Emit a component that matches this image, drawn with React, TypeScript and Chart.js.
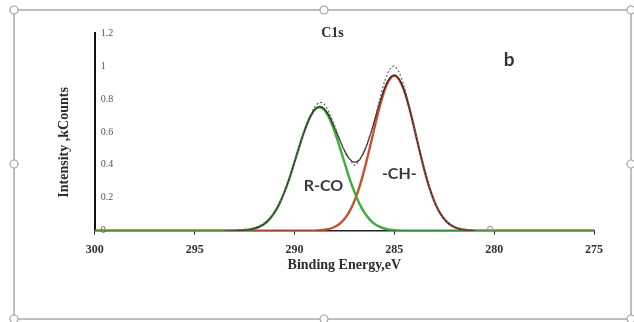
import React, { useEffect, useRef } from "react";
import { Chart, registerables } from "chart.js";

Chart.register(...registerables);

// Binding energy grid (eV)
const energies = [
  300,
  293.5, 293.25, 293, 292.75, 292.5, 292.25, 292, 291.75, 291.5, 291.25,
  291, 290.75, 290.5, 290.25, 290, 289.75, 289.5, 289.25, 289, 288.75,
  288.5, 288.25, 288, 287.75, 287.5, 287.25, 287, 286.75, 286.5, 286.25,
  286, 285.75, 285.5, 285.25, 285, 284.75, 284.5, 284.25, 284, 283.75,
  283.5, 283.25, 283, 282.75, 282.5, 282.25, 282, 281.75, 281.5, 281.25,
  281,
  275,
];

// R-CO component (green)
const rcoFit = [
  0,
  0, 0, 0.001, 0.002, 0.004, 0.007, 0.014, 0.025, 0.043, 0.071,
  0.111, 0.165, 0.236, 0.32, 0.416, 0.514, 0.606, 0.682, 0.733, 0.75,
  0.733, 0.682, 0.606, 0.514, 0.416, 0.32, 0.236, 0.165, 0.111, 0.071,
  0.043, 0.025, 0.014, 0.007, 0.004, 0.002, 0.001, 0, 0, 0,
  0, 0, 0, 0, 0, 0, 0, 0, 0, 0,
  0,
  0,
];

// -CH- component (red)
const chFit = [
  0,
  0, 0, 0, 0, 0, 0, 0, 0, 0, 0,
  0, 0, 0, 0, 0, 0, 0, 0, 0.001, 0.003,
  0.006, 0.012, 0.023, 0.041, 0.071, 0.116, 0.18, 0.265, 0.371, 0.493,
  0.622, 0.745, 0.848, 0.916, 0.94, 0.916, 0.848, 0.745, 0.622, 0.493,
  0.371, 0.265, 0.18, 0.116, 0.071, 0.041, 0.023, 0.012, 0.006, 0.003,
  0.001,
  0,
];

// fitted envelope (dark)
const envelope = [
  0,
  0, 0, 0.001, 0.002, 0.004, 0.007, 0.014, 0.025, 0.043, 0.071,
  0.111, 0.165, 0.236, 0.32, 0.416, 0.514, 0.606, 0.682, 0.734, 0.753,
  0.739, 0.694, 0.629, 0.555, 0.487, 0.436, 0.416, 0.43, 0.482, 0.564,
  0.665, 0.77, 0.862, 0.923, 0.944, 0.918, 0.849, 0.745, 0.622, 0.493,
  0.371, 0.265, 0.18, 0.116, 0.071, 0.041, 0.023, 0.012, 0.006, 0.003,
  0.001,
  0,
];

// measured spectrum (dotted)
const measured = [
  null,
  0.002, 0.003, 0.004, 0.006, 0.008, 0.012, 0.02, 0.03, 0.048, 0.075,
  0.115, 0.17, 0.24, 0.322, 0.418, 0.518, 0.612, 0.69, 0.748, 0.778,
  0.768, 0.712, 0.64, 0.562, 0.49, 0.44, 0.398, 0.43, 0.49, 0.57,
  0.67, 0.79, 0.9, 0.975, 1.0, 0.958, 0.872, 0.756, 0.628, 0.497,
  0.374, 0.268, 0.182, 0.118, 0.073, 0.043, 0.025, 0.014, 0.008, 0.005,
  0.004,
  null,
];

const strayE = [280.2];
const strayI = [0.012];

const xTicks = [300, 295, 290, 285, 280, 275];
const yTicks = [0, 0.2, 0.4, 0.6, 0.8, 1, 1.2];

const serif = "'Liberation Serif', 'Times New Roman', serif";
const sans = "Lato, 'Open Sans', sans-serif";

const pts = (ys: (number | null)[]) =>
  energies.map((e, i) => ({ x: e, y: ys[i] }));

const decorPlugin = {
  id: "decor",
  beforeDraw(chart: any) {
    const { ctx } = chart;
    ctx.save();
    ctx.fillStyle = "#ffffff";
    ctx.fillRect(0, 0, chart.width, chart.height);
    ctx.strokeStyle = "#a3abb6";
    ctx.lineWidth = 1.5;
    ctx.strokeRect(14, 10, 617, 309);
    ctx.restore();
  },
  afterDraw(chart: any) {
    const { ctx, scales } = chart;
    const xs = scales.x;
    const ys = scales.y;
    ctx.save();
    ctx.textAlign = "center";
    ctx.textBaseline = "middle";
    ctx.fillStyle = "#2e2e2e";
    ctx.font = `bold 14px ${serif}`;
    ctx.fillText("C1s", xs.getPixelForValue(288.1), ys.getPixelForValue(1.2));
    ctx.fillStyle = "#333333";
    ctx.font = `bold 19px ${sans}`;
    ctx.fillText("b", xs.getPixelForValue(279.25), ys.getPixelForValue(1.035));
    ctx.font = `bold 16px ${sans}`;
    ctx.fillStyle = "#3a3a3a";
    ctx.fillText("R-CO", xs.getPixelForValue(288.55), ys.getPixelForValue(0.27));
    ctx.fillText("-CH-", xs.getPixelForValue(284.75), ys.getPixelForValue(0.345));
    // selection handles
    const hx = [14, 324, 631];
    const hy = [10, 164, 319];
    ctx.fillStyle = "#ffffff";
    ctx.strokeStyle = "#9aa3ae";
    ctx.lineWidth = 1.2;
    for (const x of hx) {
      for (const y of hy) {
        if (x === 324 && y === 164) continue;
        ctx.beginPath();
        ctx.arc(x, y, 4, 0, Math.PI * 2);
        ctx.fill();
        ctx.stroke();
      }
    }
    ctx.restore();
  },
};

export default function App() {
  const ref = useRef<HTMLCanvasElement | null>(null);

  useEffect(() => {
    if (!ref.current) return;
    const chart = new Chart(ref.current, {
      type: "line",
      data: {
        datasets: [
          {
            label: "Measured",
            data: pts(measured),
            borderColor: "#6f6578",
            borderWidth: 1.3,
            borderDash: [2, 2],
            pointRadius: 0,
            tension: 0.3,
            spanGaps: false,
          },
          {
            label: "Stray",
            data: strayE.map((e, i) => ({ x: e, y: strayI[i] })),
            showLine: false,
            pointRadius: 2.5,
            pointBorderColor: "#8a8a96",
            pointBackgroundColor: "rgba(255,255,255,0)",
            pointBorderWidth: 1,
          },
          {
            label: "Envelope",
            data: pts(envelope).slice(1, -1),
            borderColor: "#35201a",
            borderWidth: 1.2,
            pointRadius: 0,
            tension: 0.3,
          },
          {
            label: "R-CO",
            data: pts(rcoFit),
            borderColor: "#3cae3c",
            borderWidth: 2.4,
            pointRadius: 0,
            tension: 0.3,
          },
          {
            label: "-CH-",
            data: pts(chFit),
            borderColor: "#c9512f",
            borderWidth: 2.4,
            pointRadius: 0,
            tension: 0.3,
          },
        ],
      },
      options: {
        animation: false,
        responsive: false,
        devicePixelRatio: 1,
        layout: { padding: { left: 56, right: 40, top: 33, bottom: 48 } },
        plugins: {
          legend: { display: false },
          tooltip: { enabled: false },
          title: { display: false },
        },
        scales: {
          x: {
            type: "linear",
            reverse: true,
            min: 275,
            max: 300,
            afterBuildTicks: (s: any) => {
              s.ticks = xTicks.map((v) => ({ value: v }));
            },
            ticks: {
              font: { family: serif, size: 12, weight: "bold" },
              color: "#333333",
              padding: 8,
              maxRotation: 0,
              autoSkip: false,
            },
            grid: {
              drawOnChartArea: false,
              drawTicks: true,
              tickLength: 4,
              color: "#333333",
            },
            border: { display: true, color: "#222222", width: 1.5 },
            title: {
              display: true,
              text: "Binding Energy,eV",
              font: { family: serif, size: 14, weight: "bold" },
              color: "#2e2e2e",
              padding: { top: -8, bottom: 0 },
            },
          },
          y: {
            type: "linear",
            min: 0,
            max: 1.2,
            afterBuildTicks: (s: any) => {
              s.ticks = yTicks.map((v) => ({ value: v }));
            },
            ticks: {
              mirror: true,
              padding: 6,
              font: { family: serif, size: 10 },
              color: "#555555",
              callback: (v: any) => String(Number(Number(v).toFixed(1))),
            },
            grid: { display: true, drawOnChartArea: false, drawTicks: false },
            border: { display: true, color: "#111111", width: 2 },
            title: {
              display: true,
              text: "Intensity ,kCounts      ",
              font: { family: serif, size: 14, weight: "bold" },
              color: "#2e2e2e",
              padding: { top: 0, bottom: 10 },
            },
          },
        },
      },
      plugins: [decorPlugin],
    });
    return () => chart.destroy();
  }, []);

  return (
    <div
      style={{
        position: "fixed",
        left: 0,
        top: 0,
        width: 634,
        height: 322,
        background: "#ffffff",
      }}
    >
      <canvas ref={ref} width={634} height={322} style={{ display: "block", width: 634, height: 322 }} />
    </div>
  );
}
